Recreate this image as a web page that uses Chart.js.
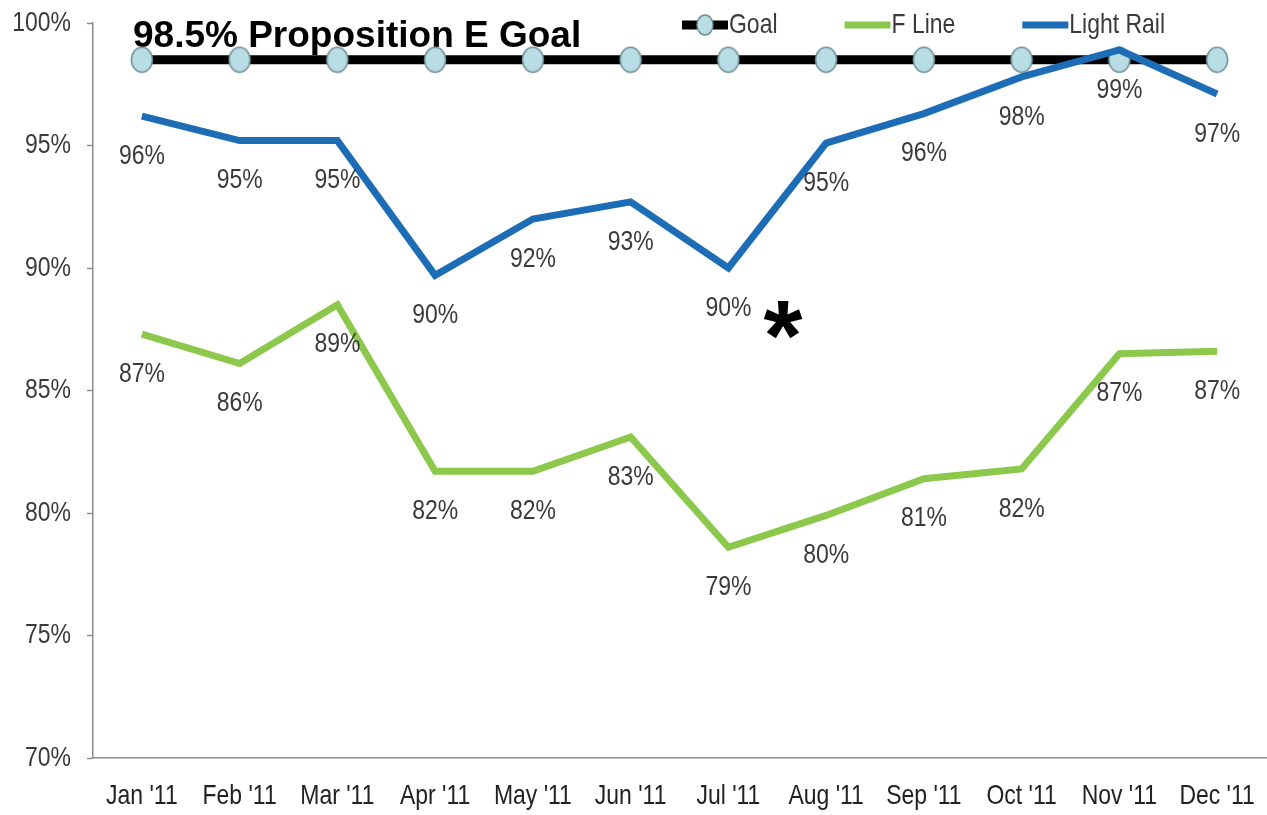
<!DOCTYPE html>
<html>
<head>
<meta charset="utf-8">
<title>Proposition E on-time performance</title>
<script src="https://cdn.jsdelivr.net/npm/chart.js@4.4.1/dist/chart.umd.min.js"></script>
<style>
  html, body { margin: 0; padding: 0; background: #fff; overflow: hidden; }
  canvas { display: block; }
</style>
</head>
<body>
<canvas id="canvas" width="1267" height="815"></canvas>
<script>
var months = ["Jan '11", "Feb '11", "Mar '11", "Apr '11", "May '11", "Jun '11",
              "Jul '11", "Aug '11", "Sep '11", "Oct '11", "Nov '11", "Dec '11"];
var goalValues = [98.5, 98.5, 98.5, 98.5, 98.5, 98.5, 98.5, 98.5, 98.5, 98.5, 98.5, 98.5];
var fLineValues = [87.3, 86.1, 88.5, 81.7, 81.7, 83.1, 78.6, 79.9, 81.4, 81.8, 86.5, 86.6];
var lightRailValues = [96.2, 95.2, 95.2, 89.7, 92.0, 92.7, 90.0, 95.1, 96.3, 97.8, 98.9, 97.1];
var yTickValues = [70, 75, 80, 85, 90, 95, 100];

var chartTitle = "98.5% Proposition E Goal";
var noteMark = "*";

var sans = "'Liberation Sans', Arial, sans-serif";
var textColor = "#3a3a3a";
var axisColor = "#8c8c8c";

// narrow-looking text: squeeze the regular face horizontally
function narrowText(ctx, text, x, y, align) {
	ctx.save();
	ctx.translate(x, y);
	ctx.scale(0.82, 1);
	ctx.textAlign = align;
	ctx.fillText(text, 0, 0);
	ctx.restore();
	return ctx.measureText(text).width * 0.82;
}

// goal marker: slightly tall oval
function goalMarker() {
	var c = document.createElement("canvas");
	c.width = 24;
	c.height = 28;
	var g = c.getContext("2d");
	g.beginPath();
	g.ellipse(12, 14, 10.5, 12.5, 0, 0, Math.PI * 2);
	g.fillStyle = "#b9dde5";
	g.fill();
	g.lineWidth = 1.5;
	g.strokeStyle = "#6e8e96";
	g.stroke();
	return c;
}

// axis tick labels, placed from the chart's own scales
var axisLabels = {
	id: "axisLabels",
	afterDraw: function(chart) {
		var ctx = chart.ctx;
		var xs = chart.scales.x, ys = chart.scales.y;
		ctx.save();
		ctx.font = "28px " + sans;
		ctx.textBaseline = "middle";
		ctx.fillStyle = textColor;
		yTickValues.forEach(function(v) {
			narrowText(ctx, v + "%", ys.right - 22, ys.getPixelForValue(v), "right");
		});
		ctx.fillStyle = "#222";
		months.forEach(function(m, i) {
			narrowText(ctx, m, xs.getPixelForValue(i), xs.top + 38, "center");
		});
		ctx.restore();
	}
};

// percentage labels under the points of the flagged series
var pointLabels = {
	id: "pointLabels",
	afterDatasetsDraw: function(chart) {
		var ctx = chart.ctx;
		ctx.save();
		ctx.font = "28px " + sans;
		ctx.fillStyle = textColor;
		ctx.textBaseline = "middle";
		chart.data.datasets.forEach(function(ds, i) {
			if (!ds.showValues) return;
			chart.getDatasetMeta(i).data.forEach(function(pt, j) {
				narrowText(ctx, Math.round(ds.data[j]) + "%", pt.x, pt.y + 40, "center");
			});
		});
		ctx.restore();
	}
};

// title text sits behind the goal markers
var titleText = {
	id: "titleText",
	beforeDatasetsDraw: function(chart) {
		var ctx = chart.ctx;
		ctx.save();
		ctx.font = "bold 37px " + sans;
		ctx.fillStyle = "#000";
		ctx.textAlign = "left";
		ctx.textBaseline = "alphabetic";
		ctx.fillText(chartTitle, 133, 47);
		ctx.restore();
	}
};

// legend row along the top, drawn from the datasets
var topLegend = {
	id: "topLegend",
	afterDraw: function(chart) {
		var ctx = chart.ctx;
		var x = 682, y = 25;
		ctx.save();
		ctx.font = "28px " + sans;
		ctx.textBaseline = "middle";
		chart.data.datasets.forEach(function(ds) {
			ctx.strokeStyle = ds.borderColor;
			ctx.lineWidth = ds.borderWidth;
			ctx.beginPath();
			ctx.moveTo(x, y);
			ctx.lineTo(x + 46, y);
			ctx.stroke();
			if (ds.pointRadius > 0) {
				ctx.beginPath();
				ctx.ellipse(x + 23, y, 8, 10, 0, 0, Math.PI * 2);
				ctx.fillStyle = "#b9dde5";
				ctx.fill();
				ctx.lineWidth = 1.5;
				ctx.strokeStyle = "#6e8e96";
				ctx.stroke();
			}
			ctx.fillStyle = textColor;
			var w = narrowText(ctx, ds.label, x + 47, y, "left");
			x += 47 + w + 67;
		});
		ctx.restore();
	}
};

// footnote asterisk next to the July value
var noteStar = {
	id: "noteStar",
	afterDraw: function(chart) {
		var ctx = chart.ctx;
		ctx.save();
		ctx.font = "bold 100px " + sans;
		ctx.fillStyle = "#000";
		ctx.textAlign = "center";
		ctx.textBaseline = "alphabetic";
		var m = ctx.measureText(noteMark);
		var mid = (m.actualBoundingBoxAscent - m.actualBoundingBoxDescent) / 2;
		ctx.fillText(noteMark, 783, 320 + mid);
		ctx.restore();
	}
};

var ctx = document.getElementById("canvas").getContext("2d");

var chartdata = {
	labels: months,
	datasets: [
		{
			label: "Goal",
			data: goalValues,
			borderColor: "#000000",
			borderWidth: 9,
			pointRadius: 11,
			pointStyle: goalMarker(),
			tension: 0,
			order: 3
		},
		{
			label: "F Line",
			data: fLineValues,
			borderColor: "#8cc84b",
			borderWidth: 7,
			pointRadius: 0,
			tension: 0,
			showValues: true,
			order: 2
		},
		{
			label: "Light Rail",
			data: lightRailValues,
			borderColor: "#1c6db6",
			borderWidth: 7,
			pointRadius: 0,
			tension: 0,
			showValues: true,
			order: 1
		}
	]
};

var LineGraph = new Chart(ctx, {
	type: "line",
	data: chartdata,
	plugins: [titleText, pointLabels, topLegend, noteStar, axisLabels],
	options: {
		responsive: false,
		animation: false,
		clip: false,
		layout: { autoPadding: false, padding: { top: 23, right: 1, left: 0, bottom: 0 } },
		plugins: {
			legend: { display: false },
			tooltip: { enabled: false }
		},
		scales: {
			x: {
				offset: true,
				grid: { display: false },
				border: { color: axisColor, width: 1.5 },
				ticks: { display: false },
				afterFit: function(scale) { scale.height = 57; }
			},
			y: {
				min: 70,
				max: 100,
				grid: { drawOnChartArea: false, tickLength: 6, color: axisColor, tickWidth: 1.5 },
				border: { color: axisColor, width: 1.5 },
				ticks: { display: false },
				afterBuildTicks: function(scale) {
					scale.ticks = yTickValues.map(function(v) { return { value: v }; });
				},
				afterFit: function(scale) { scale.width = 93; }
			}
		}
	}
});
</script>
</body>
</html>
